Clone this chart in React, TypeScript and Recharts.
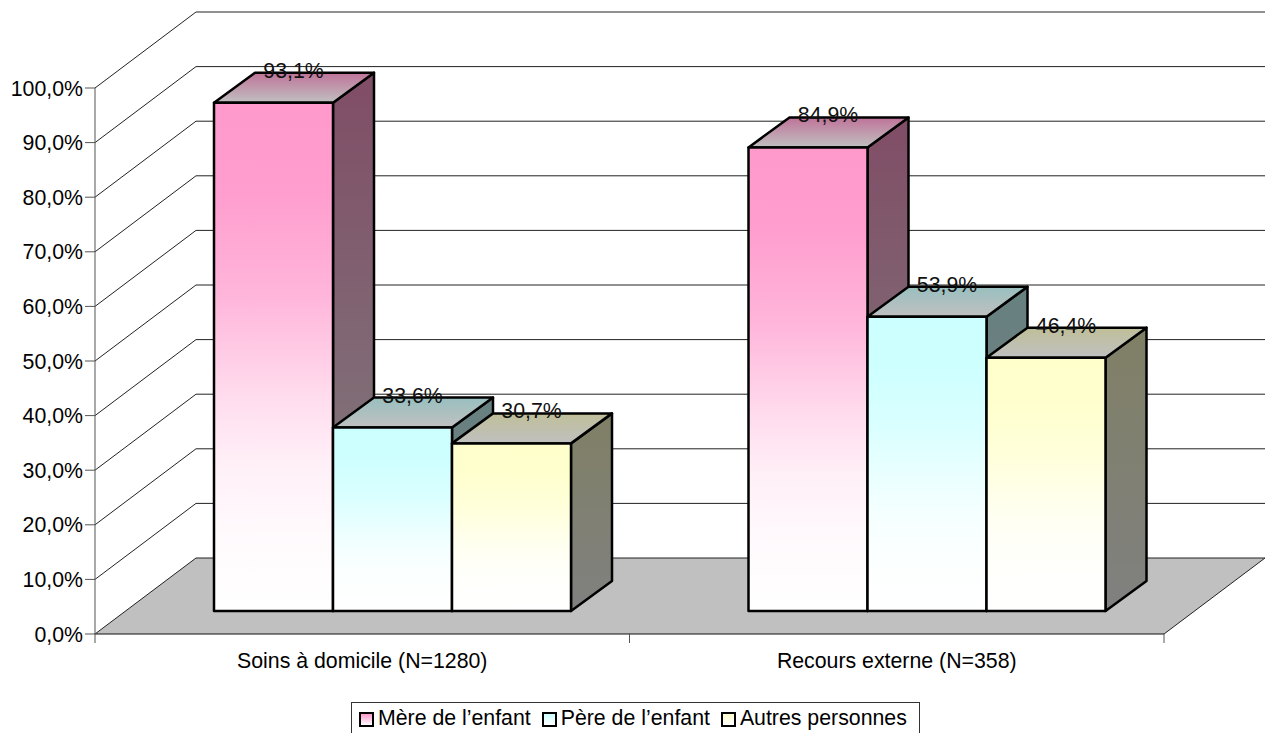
import { BarChart, Bar, XAxis, YAxis, CartesianGrid, Legend, LabelList } from 'recharts';

const categories = ['Soins à domicile (N=1280)', 'Recours externe (N=358)'];
const mere = [93.1, 84.9];
const pere = [33.6, 53.9];
const autres = [30.7, 46.4];
const yTicks = [0, 10, 20, 30, 40, 50, 60, 70, 80, 90, 100];

const seriesNames = ['Mère de l’enfant', 'Père de l’enfant', 'Autres personnes'];
const seriesKeys = ['mere', 'pere', 'autres'];
const frontColors = ['#ff99cc', '#ccffff', '#ffffcc'];
const topColors = ['#bf7399', '#99bfbf', '#bfbf99'];
const sideColors = ['#804d66', '#668080', '#808066'];
// front face fade, colour over white: [offset, opacity]
const frontFade = [[0, 1], [0.18, 0.95], [0.38, 0.72], [0.58, 0.34], [0.71, 0.15], [0.85, 0.05], [1, 0]];

const data = categories.map((name, i) => ({
  name,
  mere: mere[i],
  pere: pere[i],
  autres: autres[i],
}));

const WIDTH = 1266;
const HEIGHT = 733;
const PLOT_LEFT = 95;
const PLOT_RIGHT = 1164;
const PLOT_TOP = 88;
const PLOT_BOTTOM = 634;
const FONT = '"Liberation Sans", Arial, sans-serif';
const FONT_SIZE = 21.3;

// depth of the box the chart sits in, and of the bars themselves
const WALL_DX = 101;
const WALL_DY = -76;
const BAR_DX = 41;
const BAR_DY = -30;
// bars stand part way into the floor
const SHIFT_X = 30;
const SHIFT_Y = -23;

function GridLine({ x1, y1, x2 }: any) {
  const isFloor = Math.abs(y1 - PLOT_BOTTOM) < 1;
  const backY = y1 + WALL_DY;
  return (
    <g>
      {isFloor && (
        <polygon
          points={`${x1},${y1} ${x1 + WALL_DX},${backY} ${x2 + WALL_DX},${backY} ${x2},${y1}`}
          fill="#c0c0c0"
          stroke="none"
        />
      )}
      <line x1={x1} y1={y1} x2={x1 + WALL_DX} y2={backY} stroke="#222" strokeWidth={1} />
      <line x1={x1 + WALL_DX} y1={backY} x2={x2 + WALL_DX} y2={backY} stroke="#222" strokeWidth={1} />
      {isFloor && <line x1={x2} y1={y1} x2={x2 + WALL_DX} y2={backY} stroke="#222" strokeWidth={1} />}
    </g>
  );
}

function makeBoxShape(i: number) {
  return function BoxShape({ x, y, width, height }: any) {
    const left = x + SHIFT_X;
    const right = left + width;
    const top = y + SHIFT_Y;
    const bottom = top + height;
    const edge = { stroke: '#000', strokeWidth: 2.5, strokeLinejoin: 'round' as const };
    return (
      <g>
        <polygon
          points={`${right},${top} ${right + BAR_DX},${top + BAR_DY} ${right + BAR_DX},${bottom + BAR_DY} ${right},${bottom}`}
          fill={`url(#side-${i})`}
          {...edge}
        />
        <polygon
          points={`${left},${top} ${left + BAR_DX},${top + BAR_DY} ${right + BAR_DX},${top + BAR_DY} ${right},${top}`}
          fill={`url(#top-${i})`}
          {...edge}
        />
        <rect x={left} y={top} width={width} height={height} fill="#fff" />
        <rect x={left} y={top} width={width} height={height} fill={`url(#front-${i})`} {...edge} />
      </g>
    );
  };
}

function BarValue({ x, y, width, value }: any) {
  return (
    <text
      x={x + SHIFT_X + width / 2 + 20}
      y={y + SHIFT_Y - 25}
      textAnchor="middle"
      fontFamily={FONT}
      fontSize={FONT_SIZE}
      fill="#111"
    >
      {value.toFixed(1).replace('.', ',')}%
    </text>
  );
}

function CategoryTick({ x, y, payload, index }: any) {
  const half = (PLOT_RIGHT - PLOT_LEFT) / categories.length / 2;
  return (
    <g>
      <line x1={x - half} y1={y - 9} x2={x - half} y2={y + 1} stroke="#555" />
      {index === categories.length - 1 && (
        <line x1={x + half} y1={y - 9} x2={x + half} y2={y + 1} stroke="#555" />
      )}
      <text x={x} y={y + 26} textAnchor="middle" fontFamily={FONT} fontSize={FONT_SIZE} fill="#000">
        {payload.value}
      </text>
    </g>
  );
}

function LegendBox({ payload }: any) {
  return (
    <div
      style={{
        boxSizing: 'border-box',
        height: 40,
        border: '1px solid #333',
        display: 'flex',
        alignItems: 'center',
        paddingLeft: 7,
        paddingBottom: 7,
        fontFamily: FONT,
        fontSize: FONT_SIZE,
        color: '#000',
        whiteSpace: 'nowrap',
        background: '#fff',
      }}
    >
      {(payload ?? []).map((entry: any, i: number) => (
        <span key={entry.value} style={{ display: 'flex', alignItems: 'center', marginRight: 11 }}>
          <span
            style={{
              boxSizing: 'border-box',
              width: 15,
              height: 15,
              marginRight: 4,
              position: 'relative',
              top: 1,
              border: '2px solid #000',
              background: `linear-gradient(${frontColors[i]}, #fff)`,
            }}
          />
          {entry.value}
        </span>
      ))}
    </div>
  );
}

export default function App() {
  return (
    <div style={{ position: 'absolute', left: 0, top: 0, width: WIDTH, height: HEIGHT, overflow: 'hidden' }}>
      <BarChart
        width={WIDTH}
        height={HEIGHT}
        data={data}
        margin={{ top: PLOT_TOP, right: WIDTH - PLOT_RIGHT, bottom: 19, left: 0 }}
        barGap={0}
        barSize={119}
      >
        <defs>
          {frontColors.map((color, i) => (
            <linearGradient key={color} id={`front-${i}`} x1="0" y1="0" x2="0" y2="1">
              {frontFade.map(([offset, opacity]) => (
                <stop key={offset} offset={offset} stopColor={color} stopOpacity={opacity} />
              ))}
            </linearGradient>
          ))}
          {topColors.map((color, i) => (
            <linearGradient key={color} id={`top-${i}`} x1="0" y1="0" x2="0" y2="1">
              <stop offset="0" stopColor={color} />
              <stop offset="1" stopColor="#c0c0c0" />
            </linearGradient>
          ))}
          {sideColors.map((color, i) => (
            <linearGradient key={color} id={`side-${i}`} x1="0" y1="0" x2="0" y2="1">
              <stop offset="0" stopColor={color} />
              <stop offset="1" stopColor="#808080" />
            </linearGradient>
          ))}
        </defs>
        <CartesianGrid vertical={false} horizontal={(props: any) => <GridLine key={props.key} {...props} />} />
        <XAxis
          dataKey="name"
          height={40}
          stroke="#111"
          tickLine={false}
          interval={0}
          tick={<CategoryTick />}
        />
        <YAxis
          width={95}
          domain={[0, 100]}
          ticks={yTicks}
          interval={0}
          stroke="#555"
          tickSize={10}
          tickMargin={2}
          tickFormatter={(v: number) => `${v.toFixed(1).replace('.', ',')}%`}
          tick={{ fontFamily: FONT, fontSize: FONT_SIZE, fill: '#000' }}
        />
        <Legend
          verticalAlign="bottom"
          height={40}
          itemSorter={null}
          wrapperStyle={{ left: 351, bottom: -9, width: 569, height: 40 }}
          content={<LegendBox />}
        />
        {seriesKeys.map((key, i) => (
          <Bar
            key={key}
            dataKey={key}
            name={seriesNames[i]}
            fill={frontColors[i]}
            shape={makeBoxShape(i)}
            isAnimationActive={false}
          >
            <LabelList dataKey={key} content={<BarValue />} />
          </Bar>
        ))}
      </BarChart>
    </div>
  );
}
